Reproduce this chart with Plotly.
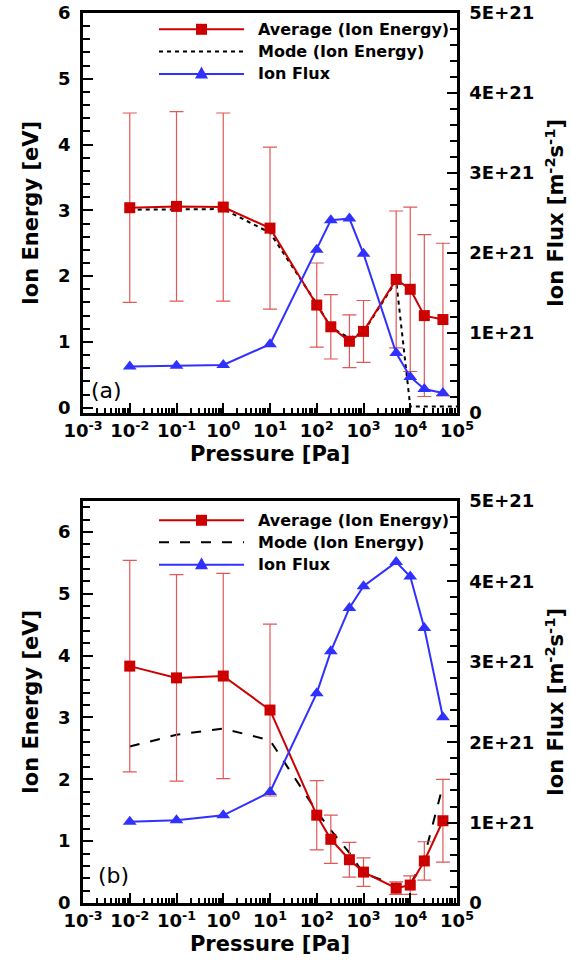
import plotly.graph_objects as go

# ---------------- data ----------------
pressure = [0.01, 0.1, 1, 10, 100, 200, 500, 1000, 5000, 10000, 20000, 50000]

# (a)
avg_a = [3.04, 3.06, 3.05, 2.73, 1.56, 1.23, 1.01, 1.16, 1.95, 1.80, 1.40, 1.34]
err_a = [1.44, 1.44, 1.43, 1.23, 0.64, 0.49, 0.40, 0.47, 1.04, 1.25, 1.23, 1.16]
mode_p_a = [0.01, 0.1, 1, 10, 100, 200, 500, 1000, 5000, 10000, 20000, 50000, 100000]
mode_a = [3.01, 3.02, 3.02, 2.66, 1.58, 1.22, 1.06, 1.15, 1.93, 0.02, 0.02, 0.02, 0.02]
flux_a = [0.58e21, 0.59e21, 0.60e21, 0.86e21, 2.04e21, 2.41e21, 2.43e21, 1.99e21,
          0.75e21, 0.45e21, 0.30e21, 0.25e21]

# (b)
avg_b = [3.83, 3.64, 3.67, 3.12, 1.42, 1.03, 0.70, 0.50, 0.24, 0.29, 0.68, 1.33]
err_b = [1.71, 1.67, 1.66, 1.39, 0.56, 0.39, 0.28, 0.23, 0.10, 0.15, 0.31, 0.67]
mode_b = [2.53, 2.72, 2.82, 2.63, 1.48, 1.18, 0.81, 0.48, 0.29, 0.29, 0.75, 1.90]
flux_b = [1.01e21, 1.03e21, 1.09e21, 1.38e21, 2.61e21, 3.13e21, 3.67e21, 3.94e21,
          4.24e21, 4.06e21, 3.42e21, 2.31e21]

x_tickvals = [1e-3, 1e-2, 1e-1, 1, 10, 100, 1e3, 1e4, 1e5]
x_ticktext = ["10<sup>-3</sup>", "10<sup>-2</sup>", "10<sup>-1</sup>", "10<sup>0</sup>",
              "10<sup>1</sup>", "10<sup>2</sup>", "10<sup>3</sup>", "10<sup>4</sup>",
              "10<sup>5</sup>"]
flux_tickvals = [0, 1e21, 2e21, 3e21, 4e21, 5e21]
flux_ticktext = ["0", "1E+21", "2E+21", "3E+21", "4E+21", "5E+21"]
legend_names = ["Average (Ion Energy)", "Mode (Ion Energy)", "Ion Flux"]

# minor log ticks: 2..9 within each decade
x_minor = [m * 10.0 ** e for e in range(-3, 5) for m in range(2, 10)]

# ---------------- styles ----------------
RED = "#cc0000"
ERR = "#e05858"
BLUE = "#3030ff"
FONT = "DejaVu Sans"
TICKFONT = dict(family=FONT, size=18, color="black", weight="bold")
TITLEFONT = dict(family=FONT, size=21, color="black", weight="bold")

fig = go.Figure()


def add_panel(xa, ya, ya2, avg, err, mode_x, mode, flux, mode_dash):
    fig.add_trace(go.Scatter(
        x=pressure, y=flux, xaxis=xa, yaxis=ya2, mode="lines+markers",
        line=dict(color=BLUE, width=2),
        marker=dict(symbol="triangle-up", size=12, color=BLUE),
        showlegend=False))
    fig.add_trace(go.Scatter(
        x=mode_x, y=mode, xaxis=xa, yaxis=ya, mode="lines",
        line=dict(color="black", width=2, dash=mode_dash),
        showlegend=False))
    fig.add_trace(go.Scatter(
        x=pressure, y=avg, xaxis=xa, yaxis=ya, mode="lines+markers",
        line=dict(color=RED, width=2),
        marker=dict(symbol="square", size=11, color=RED),
        error_y=dict(type="data", array=err, visible=True, color=ERR,
                     thickness=1.2, width=7),
        showlegend=False))


add_panel("x", "y", "y2", avg_a, err_a, mode_p_a, mode_a, flux_a, "4px,4px")
add_panel("x2", "y3", "y4", avg_b, err_b, pressure, mode_b, flux_b, "10px,11px")

xcommon = dict(type="log", range=[-3, 5], tickvals=x_tickvals, ticktext=x_ticktext,
               ticks="inside", ticklen=10, tickwidth=2, tickcolor="black",
               showline=True, linewidth=2.5, linecolor="black", mirror=True,
               showgrid=False, zeroline=False, tickfont=TICKFONT, automargin=False,
               minor=dict(tickmode="array", tickvals=x_minor, ticks="inside",
                          ticklen=5, tickwidth=1.5, tickcolor="black", showgrid=False),
               title=dict(text="Pressure [Pa]", font=TITLEFONT, standoff=6))
ycommon = dict(ticks="inside", ticklen=10, tickwidth=2, tickcolor="black",
               showline=True, linewidth=2.5, linecolor="black",
               showgrid=False, zeroline=False, tickfont=TICKFONT, dtick=1,
               automargin=False,
               minor=dict(ticks="inside", ticklen=7, tickwidth=1.5, tickcolor="black",
                          dtick=0.2, showgrid=False),
               ticklabelstandoff=6,
               title=dict(text="Ion Energy [eV]", font=TITLEFONT, standoff=14))
y2common = dict(side="right", range=[0, 5e21],
                tickvals=flux_tickvals, ticktext=flux_ticktext,
                ticks="inside", ticklen=10, tickwidth=2, tickcolor="black",
                showline=True, linewidth=2.5, linecolor="black",
                showgrid=False, zeroline=False, tickfont=TICKFONT, automargin=False,
                minor=dict(ticks="inside", ticklen=7, tickwidth=1.5, tickcolor="black",
                           dtick=0.2e21, tick0=0, showgrid=False),
                ticklabelstandoff=6,
                title=dict(text="Ion Flux [m<sup>-2</sup>s<sup>-1</sup>]",
                           font=TITLEFONT, standoff=16))

top_dom = [0.5506, 1.0]
bot_dom = [0.0, 0.4517]

fig.update_layout(
    width=571, height=973,
    margin=dict(l=83, r=114, t=13, b=70),
    paper_bgcolor="white", plot_bgcolor="white",
    showlegend=False,
    xaxis=dict(xcommon, domain=[0, 1], anchor="y"),
    yaxis=dict(ycommon, domain=top_dom, anchor="x", range=[-0.08, 6]),
    yaxis2=dict(y2common, domain=top_dom, anchor="x", overlaying="y"),
    xaxis2=dict(xcommon, domain=[0, 1], anchor="y3"),
    yaxis3=dict(ycommon, domain=bot_dom, anchor="x2", range=[0, 6.5]),
    yaxis4=dict(y2common, domain=bot_dom, anchor="x2", overlaying="y3"),
)

# ---------------- panel labels ----------------
fig.add_annotation(text="(a)", xref="x domain", yref="y domain", x=0.016, y=0.056,
                   xanchor="left", yanchor="middle", showarrow=False,
                   font=dict(family=FONT, size=22, color="black"))
fig.add_annotation(text="(b)", xref="x2 domain", yref="y3 domain", x=0.035, y=0.068,
                   xanchor="left", yanchor="middle", showarrow=False,
                   font=dict(family=FONT, size=22, color="black"))

# ---------------- legends (long key lines) ----------------
PW, PH_A, PH_B = 374.0, 400.0, 402.0


def legend(xref, yref, rows_px, top_px, ph, dash):
    x0 = (159 - 83) / PW
    x1 = (244 - 83) / PW
    xm = (201.5 - 83) / PW
    xt = (256 - 83) / PW
    ys = [(top_px - r) / ph for r in rows_px]
    styles = [dict(color=RED, width=2), dict(color="black", width=2, dash=dash),
              dict(color=BLUE, width=2)]
    for yy, st, name in zip(ys, styles, legend_names):
        fig.add_shape(type="line", xref=xref, yref=yref, x0=x0, x1=x1, y0=yy, y1=yy,
                      line=st)
        fig.add_annotation(text=name, xref=xref, yref=yref, x=xt, y=yy,
                           xanchor="left", yanchor="middle", showarrow=False,
                           font=dict(family=FONT, size=16, color="black", weight="bold"))
    # square key
    fig.add_shape(type="rect", xref=xref, yref=yref, xsizemode="pixel",
                  ysizemode="pixel", xanchor=xm, yanchor=ys[0],
                  x0=-5.5, x1=5.5, y0=-5.5, y1=5.5,
                  fillcolor=RED, line=dict(width=0))
    # triangle key
    fig.add_shape(type="path", xref=xref, yref=yref, xsizemode="pixel",
                  ysizemode="pixel", xanchor=xm, yanchor=ys[2],
                  path="M -6.5,-4.5 L 6.5,-4.5 L 0,7.5 Z",
                  fillcolor=BLUE, line=dict(width=0))


legend("x domain", "y domain", [29.3, 51.5, 74.0], 413, PH_A, "4px,4px")
legend("x2 domain", "y3 domain", [520.3, 542.3, 564.7], 903, PH_B, "10px,11px")

fig.write_html("out.html")
